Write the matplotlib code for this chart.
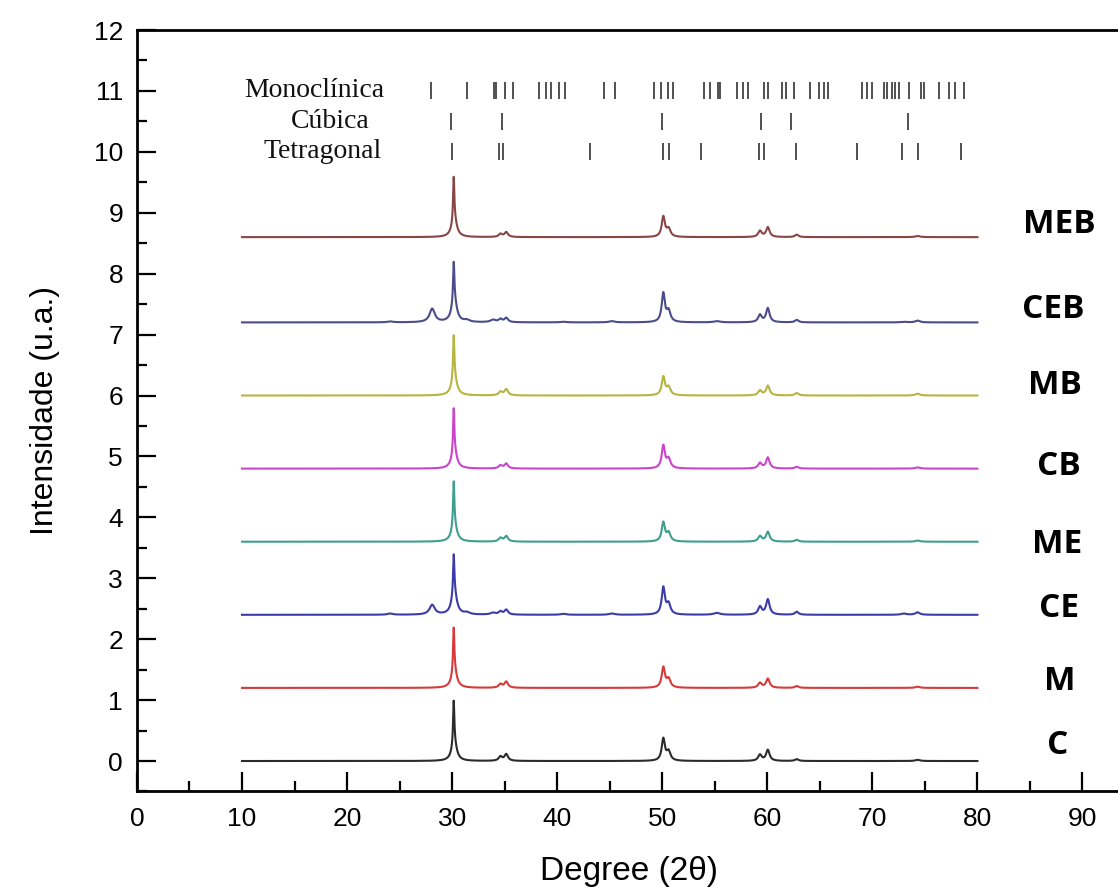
import numpy as np
import matplotlib
matplotlib.use("Agg")
import matplotlib.pyplot as plt

# ---------------- data ----------------
samples = ["C", "M", "CE", "ME", "CB", "MB", "CEB", "MEB"]
offsets = [0.0, 1.2, 2.4, 3.6, 4.8, 6.0, 7.2, 8.6]
colors = ["#2b2b2b", "#d83a3a", "#3c3ca8", "#3f9e90", "#cc44cc", "#b5b540", "#4c4c8c", "#8a4545"]

# common (cubic/tetragonal) reflections: position, half width
common_pos = [30.15, 30.2, 34.6, 35.15, 50.1, 50.6, 59.3, 60.05, 62.8, 74.3]
common_hw = [0.07, 0.28, 0.2, 0.2, 0.18, 0.22, 0.2, 0.2, 0.2, 0.25]
common_h = {
    "C":   [0.70, 0.30, 0.07, 0.11, 0.36, 0.15, 0.10, 0.18, 0.03, 0.02],
    "M":   [0.70, 0.30, 0.06, 0.10, 0.33, 0.14, 0.08, 0.15, 0.03, 0.02],
    "CE":  [0.62, 0.38, 0.05, 0.08, 0.44, 0.17, 0.13, 0.25, 0.05, 0.04],
    "ME":  [0.70, 0.30, 0.06, 0.09, 0.31, 0.14, 0.09, 0.16, 0.03, 0.02],
    "CB":  [0.70, 0.30, 0.05, 0.08, 0.37, 0.15, 0.09, 0.18, 0.03, 0.02],
    "MB":  [0.68, 0.32, 0.06, 0.10, 0.30, 0.13, 0.08, 0.16, 0.04, 0.03],
    "CEB": [0.62, 0.38, 0.05, 0.07, 0.47, 0.18, 0.12, 0.23, 0.04, 0.03],
    "MEB": [0.70, 0.30, 0.05, 0.08, 0.33, 0.13, 0.10, 0.16, 0.04, 0.02],
}
# monoclinic reflections (visible only in CE and CEB)
mono_pos = [24.1, 28.1, 31.4, 33.9, 40.6, 45.2, 55.2, 73.0]
mono_hw = [0.3, 0.3, 0.3, 0.3, 0.3, 0.3, 0.35, 0.3]
mono_h = {
    "CE":  [0.02, 0.16, 0.03, 0.03, 0.015, 0.02, 0.03, 0.02],
    "CEB": [0.015, 0.22, 0.03, 0.04, 0.01, 0.02, 0.02, 0.01],
}

# reference reflection tick positions
phases = ["Monoclínica", "Cúbica", "Tetragonal"]
phase_y = [11.0, 10.5, 10.0]
phase_x = [16.9, 18.4, 17.7]
mono_ticks = [28.0, 31.4, 34.0, 34.2, 35.0, 35.8, 38.3, 38.9, 39.4, 40.2, 40.7,
              44.5, 45.5, 49.2, 49.9, 50.5, 51.0, 54.0, 54.5, 55.3, 55.5, 57.1,
              57.7, 58.2, 59.7, 60.1, 61.4, 61.8, 62.5, 64.1, 64.9, 65.4, 65.8,
              69.0, 69.5, 70.0, 71.1, 71.4, 71.9, 72.2, 72.5, 73.5, 74.6, 74.9,
              76.3, 77.3, 77.9, 78.7]
cubic_ticks = [29.9, 34.7, 50.0, 59.4, 62.3, 73.4]
tetra_ticks = [30.0, 34.5, 34.8, 43.1, 50.1, 50.6, 53.7, 59.2, 59.7, 62.7,
               68.5, 72.8, 74.3, 78.4]

label_x = [87.6, 87.8, 87.8, 87.6, 87.8, 87.4, 87.2, 87.8]
label_y = [0.26, 1.30, 2.51, 3.55, 4.84, 6.16, 7.41, 8.80]

x_ticks = [0, 10, 20, 30, 40, 50, 60, 70, 80, 90]
y_ticks = list(range(0, 13))

# ---------------- drawing ----------------
theta = np.linspace(10, 80, 7001)


def lor(x, p, h, w):
    return h / (1.0 + ((x - p) / w) ** 2)


fig = plt.figure(figsize=(11.18, 8.93), dpi=100)
ax = fig.add_axes([0.1225, 0.1137, 0.8775 + 0.003, 0.8527])

for s, off, col in zip(samples, offsets, colors):
    y = np.zeros_like(theta)
    for p, w, h in zip(common_pos, common_hw, common_h[s]):
        y += lor(theta, p, h, w)
    if s in mono_h:
        for p, w, h in zip(mono_pos, mono_hw, mono_h[s]):
            y += lor(theta, p, h, w)
    y -= y.min()
    ax.plot(theta, y + off, color=col, lw=1.5)

for tks, yy in zip([mono_ticks, cubic_ticks, tetra_ticks], phase_y):
    ax.vlines(tks, yy - 0.14, yy + 0.14, color="#333333", lw=1.2)

for name, yy, xx in zip(phases, phase_y, phase_x):
    ax.text(xx, yy, name, family="Liberation Serif", fontsize=20,
            ha="center", va="center", color="#111111")

for s, lx, ly in zip(samples, label_x, label_y):
    ax.text(lx, ly, s, family="Open Sans", fontweight="bold", fontsize=24,
            ha="center", va="center", color="black")

ax.set_xlim(0, 93.7)
ax.set_ylim(-0.5, 12)
ax.set_xticks(x_ticks)
ax.set_yticks(y_ticks)
ax.set_xticks(np.arange(5, 94, 10), minor=True)
ax.set_yticks(np.arange(-0.5, 12, 0.5), minor=True)

ax.tick_params(axis="both", which="major", direction="in", length=14, width=1.6)
ax.tick_params(axis="both", which="minor", direction="in", length=7, width=1.6)
ax.tick_params(axis="x", which="both", top=False)
ax.tick_params(axis="y", which="both", right=False)
ax.tick_params(axis="x", pad=11)
ax.tick_params(axis="y", pad=10)
for lab in ax.get_xticklabels():
    lab.set_family("Liberation Sans")
    lab.set_fontsize(19)
for lab in ax.get_yticklabels():
    lab.set_family("Liberation Sans")
    lab.set_fontsize(19)

for sp in ["left", "bottom", "top"]:
    ax.spines[sp].set_linewidth(2.0)
ax.spines["right"].set_visible(False)

ax.set_xlabel("Degree (2θ)", family="Liberation Sans", fontsize=24, labelpad=18)
ax.set_ylabel("Intensidade (u.a.)", family="Liberation Sans", fontsize=23, labelpad=24)

fig.savefig("out.png", dpi=100)
